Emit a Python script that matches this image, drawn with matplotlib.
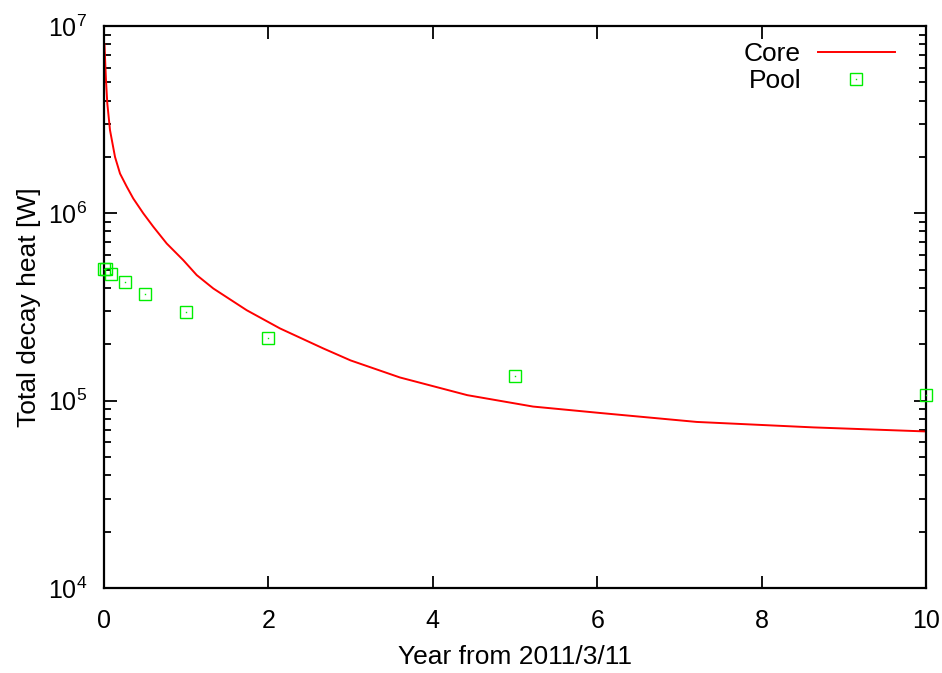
import matplotlib
matplotlib.use("Agg")
import matplotlib.pyplot as plt
from matplotlib.legend_handler import HandlerTuple
from matplotlib.ticker import LogLocator, LogFormatterMathtext, NullFormatter

plt.rcParams['font.family'] = ['Liberation Sans', 'DejaVu Sans']
plt.rcParams['mathtext.fontset'] = 'custom'
plt.rcParams['mathtext.rm'] = 'Liberation Sans'
plt.rcParams['mathtext.it'] = 'Liberation Sans:italic'

# decay heat in the reactor core
core_years = [0.006, 0.012, 0.024, 0.040, 0.073, 0.134, 0.195, 0.276, 0.356, 0.478,
              0.600, 0.763, 0.965, 1.128, 1.33, 1.736, 2.141, 2.668, 3.0, 3.6,
              4.42, 5.22, 6.03, 7.21, 8.63, 10.0]
core_heat = [8.0e6, 6.86e6, 5.15e6, 3.87e6, 2.78e6, 2.0e6, 1.63e6, 1.39e6, 1.2e6, 1.0e6,
             8.48e5, 6.9e5, 5.62e5, 4.68e5, 3.97e5, 3.04e5, 2.43e5, 1.9e5, 1.64e5, 1.33e5,
             1.07e5, 9.3e4, 8.6e4, 7.7e4, 7.2e4, 6.85e4]

# decay heat in the spent fuel pool
pool_years = [0.0, 0.02, 0.08, 0.25, 0.5, 1, 2, 5, 10]
pool_heat = [5.05e5, 5.05e5, 4.75e5, 4.28e5, 3.72e5, 2.98e5, 2.15e5, 1.36e5, 1.07e5]

x_ticks = [0, 2, 4, 6, 8, 10]

fig = plt.figure(figsize=(9.42, 6.73), dpi=100)
ax = fig.add_axes([104 / 942, 1 - 588 / 673, 822 / 942, 562 / 673])

core, = ax.plot(core_years, core_heat, color='#ff0000', lw=1.4)
sq, = ax.plot(pool_years, pool_heat, ls='none', marker='s', ms=9, mfc='none',
              mec='#00ee00', mew=1.0, clip_on=False, zorder=4)
dot, = ax.plot(pool_years, pool_heat, ls='none', marker='s', ms=1.0,
               mfc='#00ee00', mec='#00ee00', mew=0, clip_on=False, zorder=4)

ax.set_yscale('log')
ax.set_xlim(0, 10)
ax.set_ylim(1e4, 1e7)
ax.set_xticks(x_ticks)
ax.yaxis.set_major_locator(LogLocator(base=10, numticks=10))
ax.yaxis.set_major_formatter(LogFormatterMathtext())
ax.yaxis.set_minor_locator(LogLocator(base=10, subs=range(2, 10), numticks=20))
ax.yaxis.set_minor_formatter(NullFormatter())

ax.tick_params(which='both', direction='in', top=True, right=True, width=1.3,
               labelsize=18)
ax.tick_params(which='major', length=9)
ax.tick_params(which='minor', length=5)
ax.tick_params(axis='x', pad=15)
ax.tick_params(axis='y', pad=12)
for s in ax.spines.values():
    s.set_linewidth(1.6)

ax.set_xlabel('Year from 2011/3/11', fontsize=19, labelpad=9)
ax.set_ylabel('Total decay heat [W]', fontsize=19, labelpad=5)

ax.legend([core, (sq, dot)], ['Core', 'Pool'], handler_map={tuple: HandlerTuple(ndivide=1)},
          loc='upper right', bbox_to_anchor=(1 - 26 / 822, 1 - 11 / 562), frameon=False,
          fontsize=19, markerfirst=False, handlelength=2.9, handletextpad=0.65,
          borderaxespad=0.0, borderpad=0.2, labelspacing=0.12)

fig.savefig('out.png', dpi=100)
